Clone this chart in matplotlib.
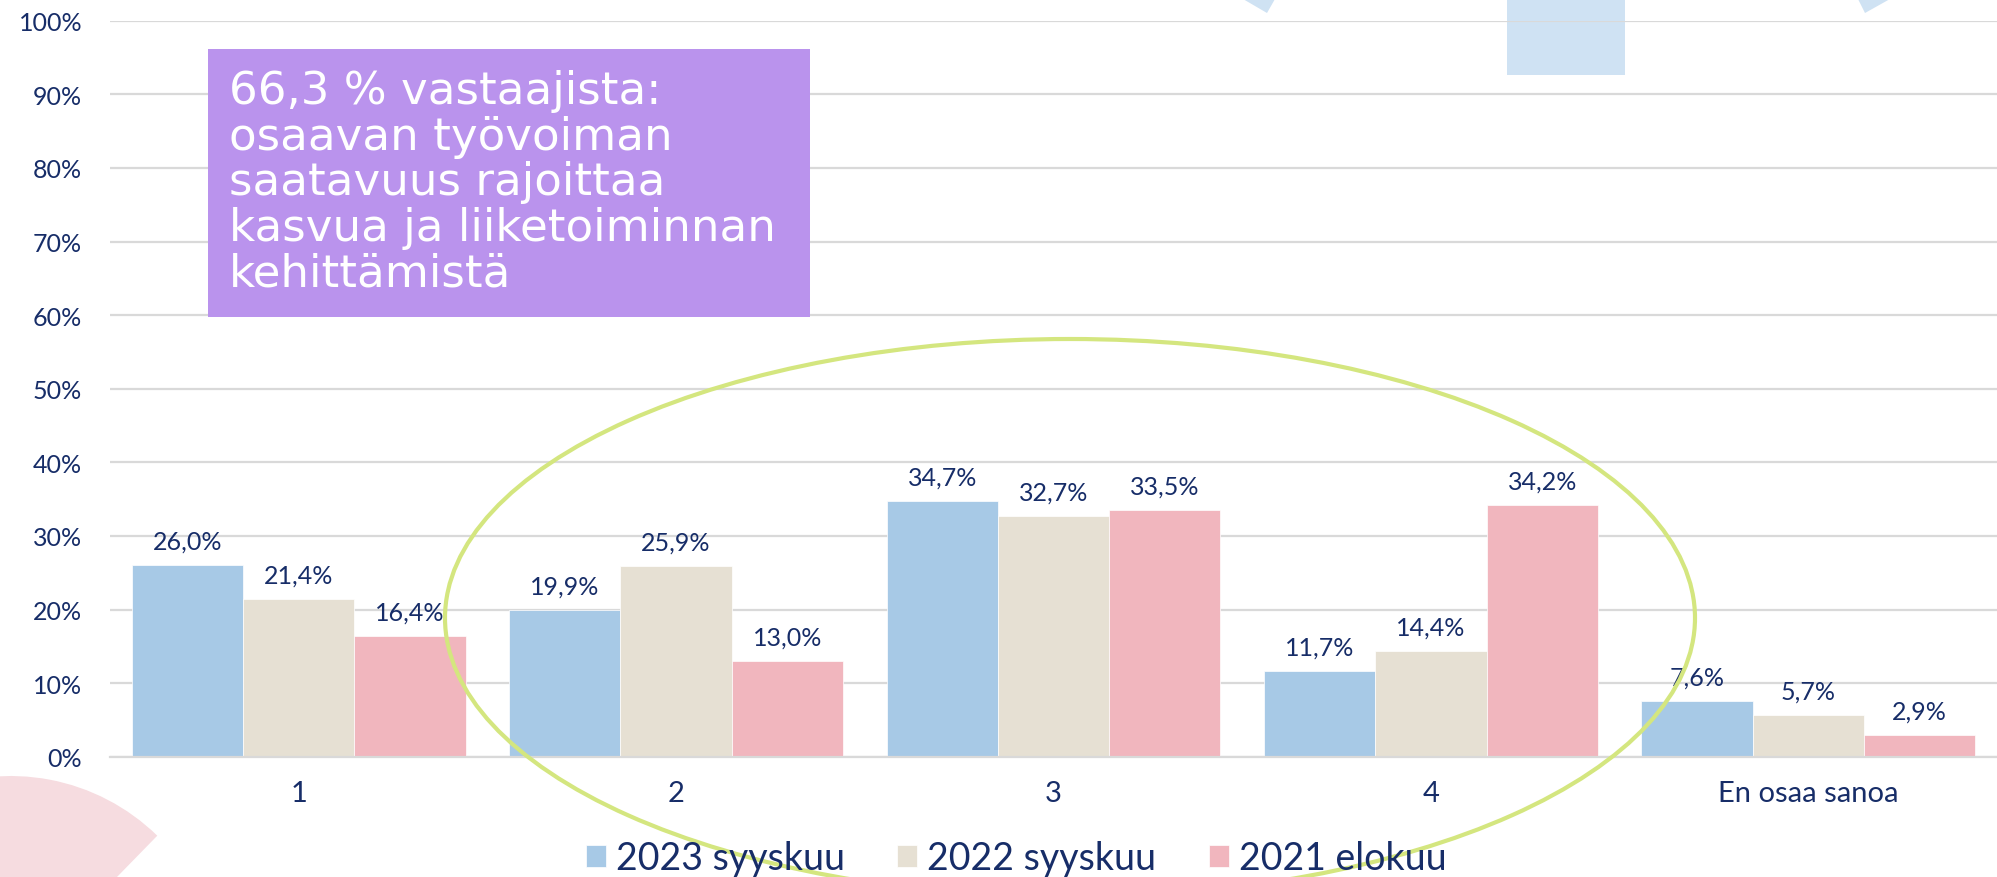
import matplotlib
matplotlib.use('Agg')
import matplotlib.pyplot as plt
from matplotlib.patches import Rectangle, Polygon, Wedge, Ellipse
import numpy as np

#################### Data ####################
CATEGORIES = ['1', '2', '3', '4', 'En osaa sanoa']
SERIES = ['2023 syyskuu', '2022 syyskuu', '2021 elokuu']
VAL_2023 = [26.0, 19.9, 34.7, 11.7, 7.6]
VAL_2022 = [21.4, 25.9, 32.7, 14.4, 5.7]
VAL_2021 = [16.4, 13.0, 33.5, 34.2, 2.9]
Y_TICKS = [0, 10, 20, 30, 40, 50, 60, 70, 80, 90, 100]
NOTE = '66,3 % vastaajista:\nosaavan työvoiman\nsaatavuus rajoittaa\nkasvua ja liiketoiminnan\nkehittämistä'
#################### Data ####################

COLORS = ['#A7C9E6', '#E6E0D3', '#F1B6BE']
NAVY = '#172D68'
W, H = 1997, 878

plt.rcParams['font.family'] = ['Lato', 'DejaVu Sans']

fig = plt.figure(figsize=(W / 100, H / 100), dpi=100)

# background decoration, in pixel coords (y down)
bg = fig.add_axes([0, 0, 1, 1], zorder=-1)
bg.set_xlim(0, W)
bg.set_ylim(H, 0)
bg.axis('off')
light_blue = '#CFE2F3'
bg.add_patch(Rectangle((1507, 0), 118, 76, color=light_blue, lw=0))
bg.add_patch(Polygon([(1243, 0), (1275, 0), (1267, 14)], color=light_blue, lw=0))
bg.add_patch(Polygon([(1858, 0), (1890, 0), (1865, 14)], color=light_blue, lw=0))
# pink wedge bottom-left (y flipped, so angles mirrored)
bg.add_patch(Wedge((10.6, 987), 210, 180, 360 - 45.7, color='#F6DCE0', lw=0))

# main chart
ax = fig.add_axes([110 / W, 1 - 757.7 / H, (W - 110) / W, 736 / H], zorder=1)
ax.patch.set_alpha(0)
x = np.arange(len(CATEGORIES))
bw = 0.295
bars = []
for i, vals in enumerate([VAL_2023, VAL_2022, VAL_2021]):
    b = ax.bar(x + (i - 1) * bw, vals, bw, color=COLORS[i], edgecolor='white',
               linewidth=0.5, label=SERIES[i], zorder=2)
    ax.bar_label(b, labels=[f'{v:.1f}%'.replace('.', ',') for v in vals],
                 padding=9, fontsize=18, color=NAVY)
    bars.append(b)

ax.set_xlim(-0.5, 4.5)
ax.set_ylim(0, 100)
ax.set_yticks(Y_TICKS)
ax.set_yticklabels([f'{t}%' for t in Y_TICKS])
ax.set_xticks(x)
ax.set_xticklabels(CATEGORIES)
ax.tick_params(axis='y', length=0, pad=20, labelsize=18, labelcolor=NAVY)
ax.tick_params(axis='x', length=0, pad=17, labelsize=21, labelcolor=NAVY)
ax.grid(axis='y', color='#D9D9D9', lw=1.6)
ax.set_axisbelow(True)
for s in ['top', 'right', 'left']:
    ax.spines[s].set_visible(False)
ax.spines['bottom'].set_color('#D9D9D9')
ax.spines['bottom'].set_linewidth(1.6)

fig.legend(handles=bars, labels=SERIES, loc='center', ncol=3,
           bbox_to_anchor=(1016 / W, 18.5 / H), frameon=False, fontsize=27,
           handlelength=0.53, handleheight=0.53, handletextpad=0.27,
           columnspacing=1.4, labelcolor=NAVY)

# foreground: note box and ellipse
fg = fig.add_axes([0, 0, 1, 1], zorder=3)
fg.set_xlim(0, W)
fg.set_ylim(H, 0)
fg.axis('off')
fg.add_patch(Rectangle((207.6, 49.7), 602, 268, color='#BA93ED', lw=0))
fg.text(229, 70, NOTE, color='white', fontsize=32.5, va='top', ha='left',
        linespacing=1.08, family=['DejaVu Sans'])
fg.add_patch(Ellipse((1070, 619), 1250, 558, fill=False, edgecolor='#D4E67F', lw=3))

fig.savefig('out.png', dpi=100)
